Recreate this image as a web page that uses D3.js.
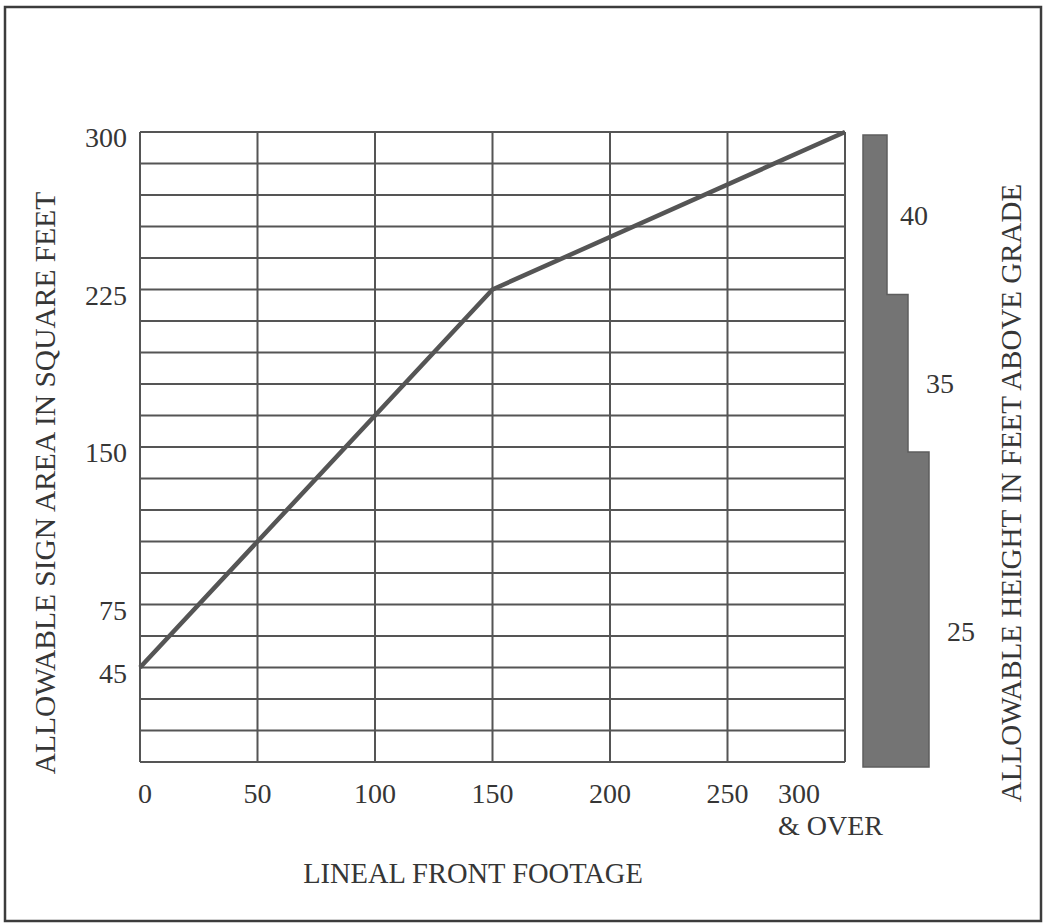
<!DOCTYPE html>
<html>
<head>
<meta charset="utf-8">
<title>Allowable sign area</title>
<style>
  body { margin: 0; background: #fff; }
  text { font-family: "Liberation Serif", "DejaVu Serif", serif; fill: #363636; }
</style>
</head>
<body>
<svg width="1045" height="924"></svg>
<script src="https://d3js.org/d3.v7.min.js"></script>
<script>
  // data
  var footage = [0, 150, 300];
  var signArea = [45, 225, 300];
  var xTicks = [0, 50, 100, 150, 200, 250, 300];
  var yTicks = [45, 75, 150, 225, 300];
  // height bands on the right: area range -> allowable height
  var bandFrom = [225, 150, 0];
  var bandTo = [300, 225, 150];
  var bandHeight = [40, 35, 25];

  var svg = d3.select("svg"),
    margin = { top: 132, right: 200, bottom: 162, left: 140 },
    width = +svg.attr("width") - margin.left - margin.right,
    height = +svg.attr("height") - margin.top - margin.bottom;

  // outer frame
  svg.append("rect")
    .attr("x", 5).attr("y", 7)
    .attr("width", 1036).attr("height", 914)
    .attr("fill", "none")
    .attr("stroke", "#3c3c3c")
    .attr("stroke-width", 2.5);

  var g = svg.append("g").attr("transform", "translate(" + margin.left + "," + margin.top + ")");

  var x = d3.scaleLinear().domain([0, 300]).range([0, width]);
  var y = d3.scaleLinear().domain([0, 300]).range([height, 0]);

  // horizontal grid every 15 sq ft
  g.append("g")
    .selectAll("line")
    .data(d3.range(0, 301, 15))
    .enter().append("line")
    .attr("x1", 0).attr("x2", width)
    .attr("y1", function (d) { return y(d); })
    .attr("y2", function (d) { return y(d); })
    .attr("stroke", "#555")
    .attr("stroke-width", 2);

  // vertical grid every 50 ft
  g.append("g")
    .selectAll("line")
    .data(xTicks)
    .enter().append("line")
    .attr("x1", function (d) { return x(d); })
    .attr("x2", function (d) { return x(d); })
    .attr("y1", 0).attr("y2", height)
    .attr("stroke", "#555")
    .attr("stroke-width", 2);

  // the curve
  var line = d3.line()
    .x(function (d, i) { return x(footage[i]); })
    .y(function (d) { return y(d); });

  g.append("path")
    .datum(signArea)
    .attr("d", line)
    .attr("fill", "none")
    .attr("stroke", "#555")
    .attr("stroke-width", 4.5)
    .attr("stroke-linejoin", "round");

  // y tick labels
  g.append("g")
    .selectAll("text")
    .data(yTicks)
    .enter().append("text")
    .attr("x", -13)
    .attr("y", function (d) { return y(d) + 15; })
    .attr("text-anchor", "end")
    .style("font-size", "28px")
    .text(function (d) { return d; });

  // x tick labels
  g.append("g")
    .selectAll("text")
    .data(xTicks.slice(0, -1))
    .enter().append("text")
    .attr("x", function (d) { return x(d) + (d === 0 ? 5 : 0); })
    .attr("y", height + 41)
    .attr("text-anchor", "middle")
    .style("font-size", "28px")
    .text(function (d) { return d; });

  var last = g.append("text")
    .attr("x", x(300) - 67)
    .attr("y", height + 41)
    .style("font-size", "28px");
  last.append("tspan").text(xTicks[xTicks.length - 1]);
  last.append("tspan").attr("x", x(300) - 67).attr("dy", 32).text("& OVER");

  // axis titles
  g.append("text")
    .attr("x", 333)
    .attr("y", height + 121)
    .attr("text-anchor", "middle")
    .style("font-size", "28.5px")
    .text("LINEAL FRONT FOOTAGE");

  svg.append("text")
    .attr("transform", "translate(55," + 483 + ") rotate(-90)")
    .attr("text-anchor", "middle")
    .style("font-size", "29.5px")
    .text("ALLOWABLE SIGN AREA IN SQUARE FEET");

  svg.append("text")
    .attr("transform", "translate(1021," + 493 + ") rotate(-90)")
    .attr("text-anchor", "middle")
    .style("font-size", "29px")
    .text("ALLOWABLE HEIGHT IN FEET ABOVE GRADE");

  // stepped height bar
  var barLeft = width + 18;
  var w = d3.scaleLinear().domain([0, bandHeight.length - 1]).range([24, 66]);

  var bar = g.append("g");
  var pts = [[barLeft, y(bandTo[0]) + 3]];
  bandHeight.forEach(function (h, i) {
    pts.push([barLeft + w(i), y(bandTo[i]) + (i === 0 ? 3 : 5)]);
    pts.push([barLeft + w(i), y(bandFrom[i]) + 5]);
  });
  pts.push([barLeft, y(bandFrom[bandFrom.length - 1]) + 5]);

  bar.append("path")
    .attr("d", d3.line()(pts) + "Z")
    .attr("fill", "#747474")
    .attr("stroke", "#5e5e5e")
    .attr("stroke-width", 1.5);

  bar.selectAll("text")
    .data(bandHeight)
    .enter().append("text")
    .attr("x", function (d, i) { return barLeft + w(i) + 13 + (i > 0 ? 5 : 0); })
    .attr("y", function (d, i) { return (y(bandTo[i]) + y(bandFrom[i])) / 2 + 14 + i * 11; })
    .style("font-size", "28px")
    .text(function (d) { return d; });
</script>
</body>
</html>
